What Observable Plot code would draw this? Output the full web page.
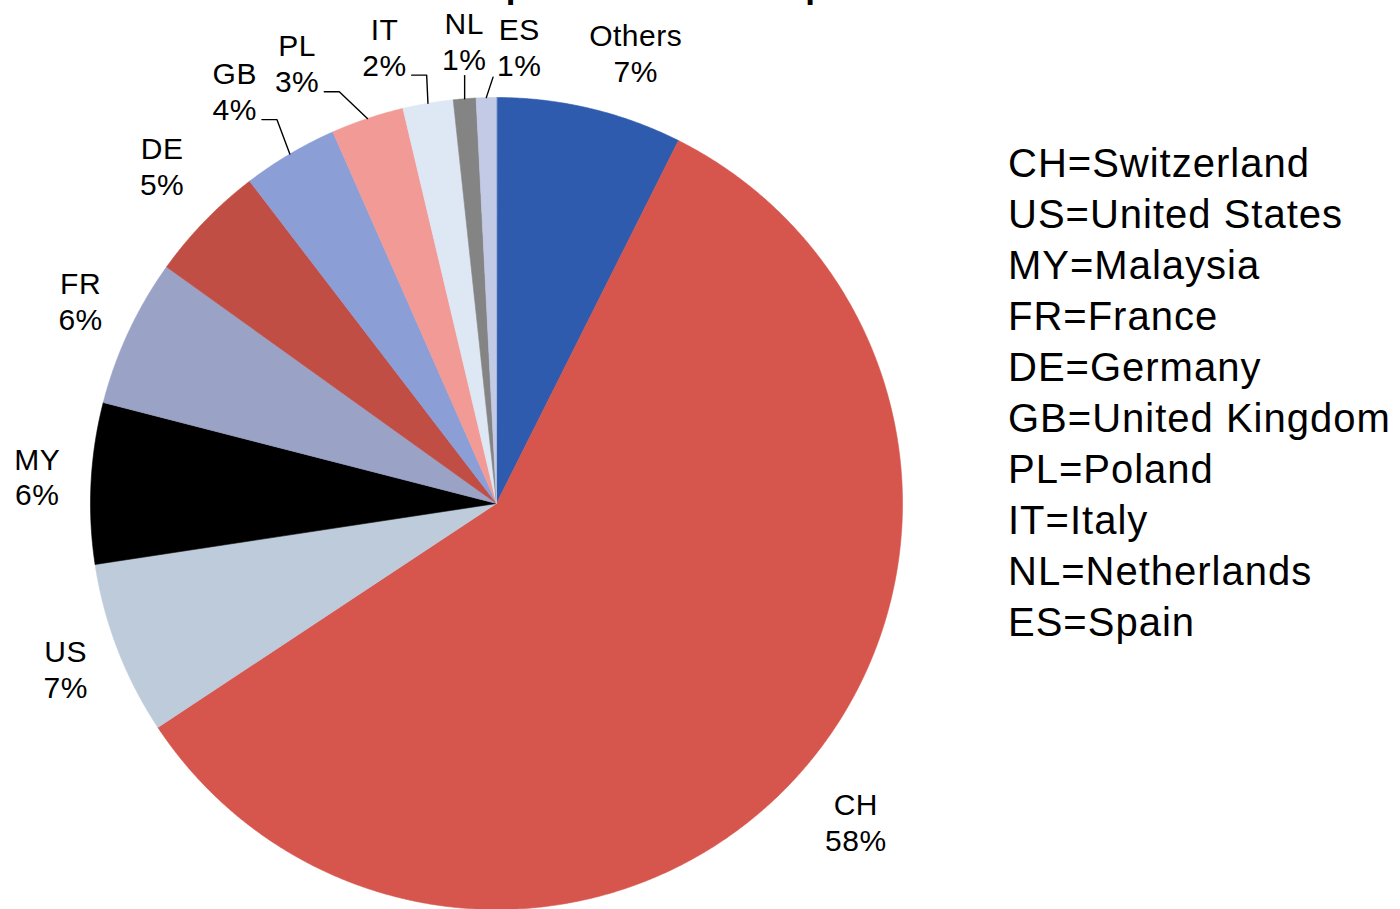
<!DOCTYPE html>
<html>
<head>
<meta charset="utf-8">
<script src="https://cdn.jsdelivr.net/npm/d3@7"></script>
<script src="https://cdn.jsdelivr.net/npm/@observablehq/plot@0.6"></script>
<style>
  html, body { margin: 0; padding: 0; background: #fff; overflow: hidden; }
  body { width: 1400px; height: 909px; position: relative; font-family: 'Liberation Sans', Arial, sans-serif; }
  #chart { position: absolute; left: 0; top: 0; }
  #chart svg text { letter-spacing: 0.5px; }
  #title { position: absolute; left: 465px; top: -32px; font-size: 35px; line-height: 35px; font-weight: bold; white-space: nowrap; color: #000; }
  #legend { position: absolute; left: 1008px; top: 137.6px; font-size: 40px; line-height: 51px; letter-spacing: 1px; color: #000; white-space: nowrap; }
</style>
</head>
<body>
<div id="title"></div>
<div id="chart"></div>
<div id="legend"></div>
<script>
// ---- data ----
const titleText = "Imports of chemical products";
const codes  = ["Others", "CH", "US", "MY", "FR", "DE", "GB", "PL", "IT", "NL", "ES"];
const shares = [7.4, 58.3, 6.9, 6.4, 5.9, 4.7, 3.8, 2.9, 2.0, 0.9, 0.8];
const colors = ["#2E5BAE", "#D6564D", "#BECBDB", "#000000", "#9AA3C6", "#C14E44", "#8B9ED6", "#F29A96", "#DEE8F5", "#848484", "#C3CAE6"];
const legendCodes = ["CH", "US", "MY", "FR", "DE", "GB", "PL", "IT", "NL", "ES"];
const legendNames = ["Switzerland", "United States", "Malaysia", "France", "Germany", "United Kingdom", "Poland", "Italy", "Netherlands", "Spain"];

// ---- layout (not data) ----
const W = 1400, H = 909, cx = 496, cy = 503, R = 406;
// label placement: [angle nudge in degrees, radius factor]
const labelLayout = {
  Others: [3.9, 1.158], CH: [0.1, 1.185], US: [-0.1, 1.138], MY: [0.3, 1.133],
  FR: [0.8, 1.138], DE: [1.0, 1.167], GB: [-1.9, 1.2], PL: [-5.9, 1.187],
  IT: [-4.1, 1.155], NL: [0.5, 1.138], ES: [4.3, 1.123]
};
const withLeader = new Set(["GB", "PL", "IT", "NL", "ES"]);
const labelDy = -2;

const rows = codes.map((c, i) => ({code: c, share: shares[i]}));
const arcs = d3.pie().sort(null).value(d => d.share)(rows);

// slice polygons
const slicePts = [];
for (const a of arcs) {
  const code = a.data.code;
  slicePts.push({code, x: 0, y: 0});
  const n = Math.max(2, Math.ceil((a.endAngle - a.startAngle) / (Math.PI / 720)));
  for (let k = 0; k <= n; k++) {
    const t = a.startAngle + (a.endAngle - a.startAngle) * k / n;
    slicePts.push({code, x: Math.sin(t), y: Math.cos(t)});
  }
}

// text measurement
const ctx = document.createElement("canvas").getContext("2d");
ctx.font = "30px 'Liberation Sans', Arial, sans-serif";
const tw = s => ctx.measureText(s).width + 0.5 * s.length;

const labels = [], leaderPts = [];
for (const a of arcs) {
  const code = a.data.code;
  const mid = (a.startAngle + a.endAngle) / 2;
  const [nudge, k] = labelLayout[code];
  const t = mid + nudge * Math.PI / 180;
  const lx = k * Math.sin(t), ly = k * Math.cos(t);
  const pct = Math.round(a.data.share) + "%";
  labels.push({code, x: lx, y: ly, text: code + "\n" + pct});
  if (withLeader.has(code)) {
    // pixel space
    const Lx = cx + lx * R, Ly = cy - ly * R + labelDy;
    const Ax = cx + Math.sin(mid) * R, Ay = cy - Math.cos(mid) * R;
    const w = Math.max(tw(code), tw(pct));
    const yb = Ly + 29;
    let pts;
    if (Ax > Lx + w / 2 + 2) {
      const sx = Lx + w / 2 + 5;
      pts = [[sx, yb], [sx + 15, yb], [Ax, Ay]];
    } else if (Ax < Lx - w / 2 - 2) {
      pts = [[Lx - w / 2 - 4, yb + 2], [Ax, Ay]];
    } else {
      pts = [[Ax, yb + 6], [Ax, Ay]];
    }
    for (const [px, py] of pts) leaderPts.push({code, x: (px - cx) / R, y: (cy - py) / R});
  }
}

const chart = Plot.plot({
  width: W, height: H,
  margin: 0,
  style: {fontFamily: "'Liberation Sans', Arial, sans-serif", background: "transparent", overflow: "visible"},
  x: {domain: [-cx / R, (W - cx) / R], axis: null},
  y: {domain: [-(H - cy) / R, cy / R], axis: null},
  color: {domain: codes, range: colors},
  marks: [
    Plot.line(slicePts, {x: "x", y: "y", z: "code", fill: "code", stroke: "code", strokeWidth: 0.6, curve: "linear-closed"}),
    Plot.line(leaderPts, {x: "x", y: "y", z: "code", stroke: "#000", strokeWidth: 1.4, curve: "linear"}),
    Plot.text(labels, {x: "x", y: "y", text: "text", fontSize: 30, lineHeight: 1.2, fill: "#000", textAnchor: "middle", dy: labelDy})
  ]
});
document.getElementById("chart").appendChild(chart);

document.getElementById("title").textContent = titleText;
document.getElementById("legend").innerHTML = legendCodes.map((c, i) => `<div>${c}=${legendNames[i]}</div>`).join("");
</script>
</body>
</html>
